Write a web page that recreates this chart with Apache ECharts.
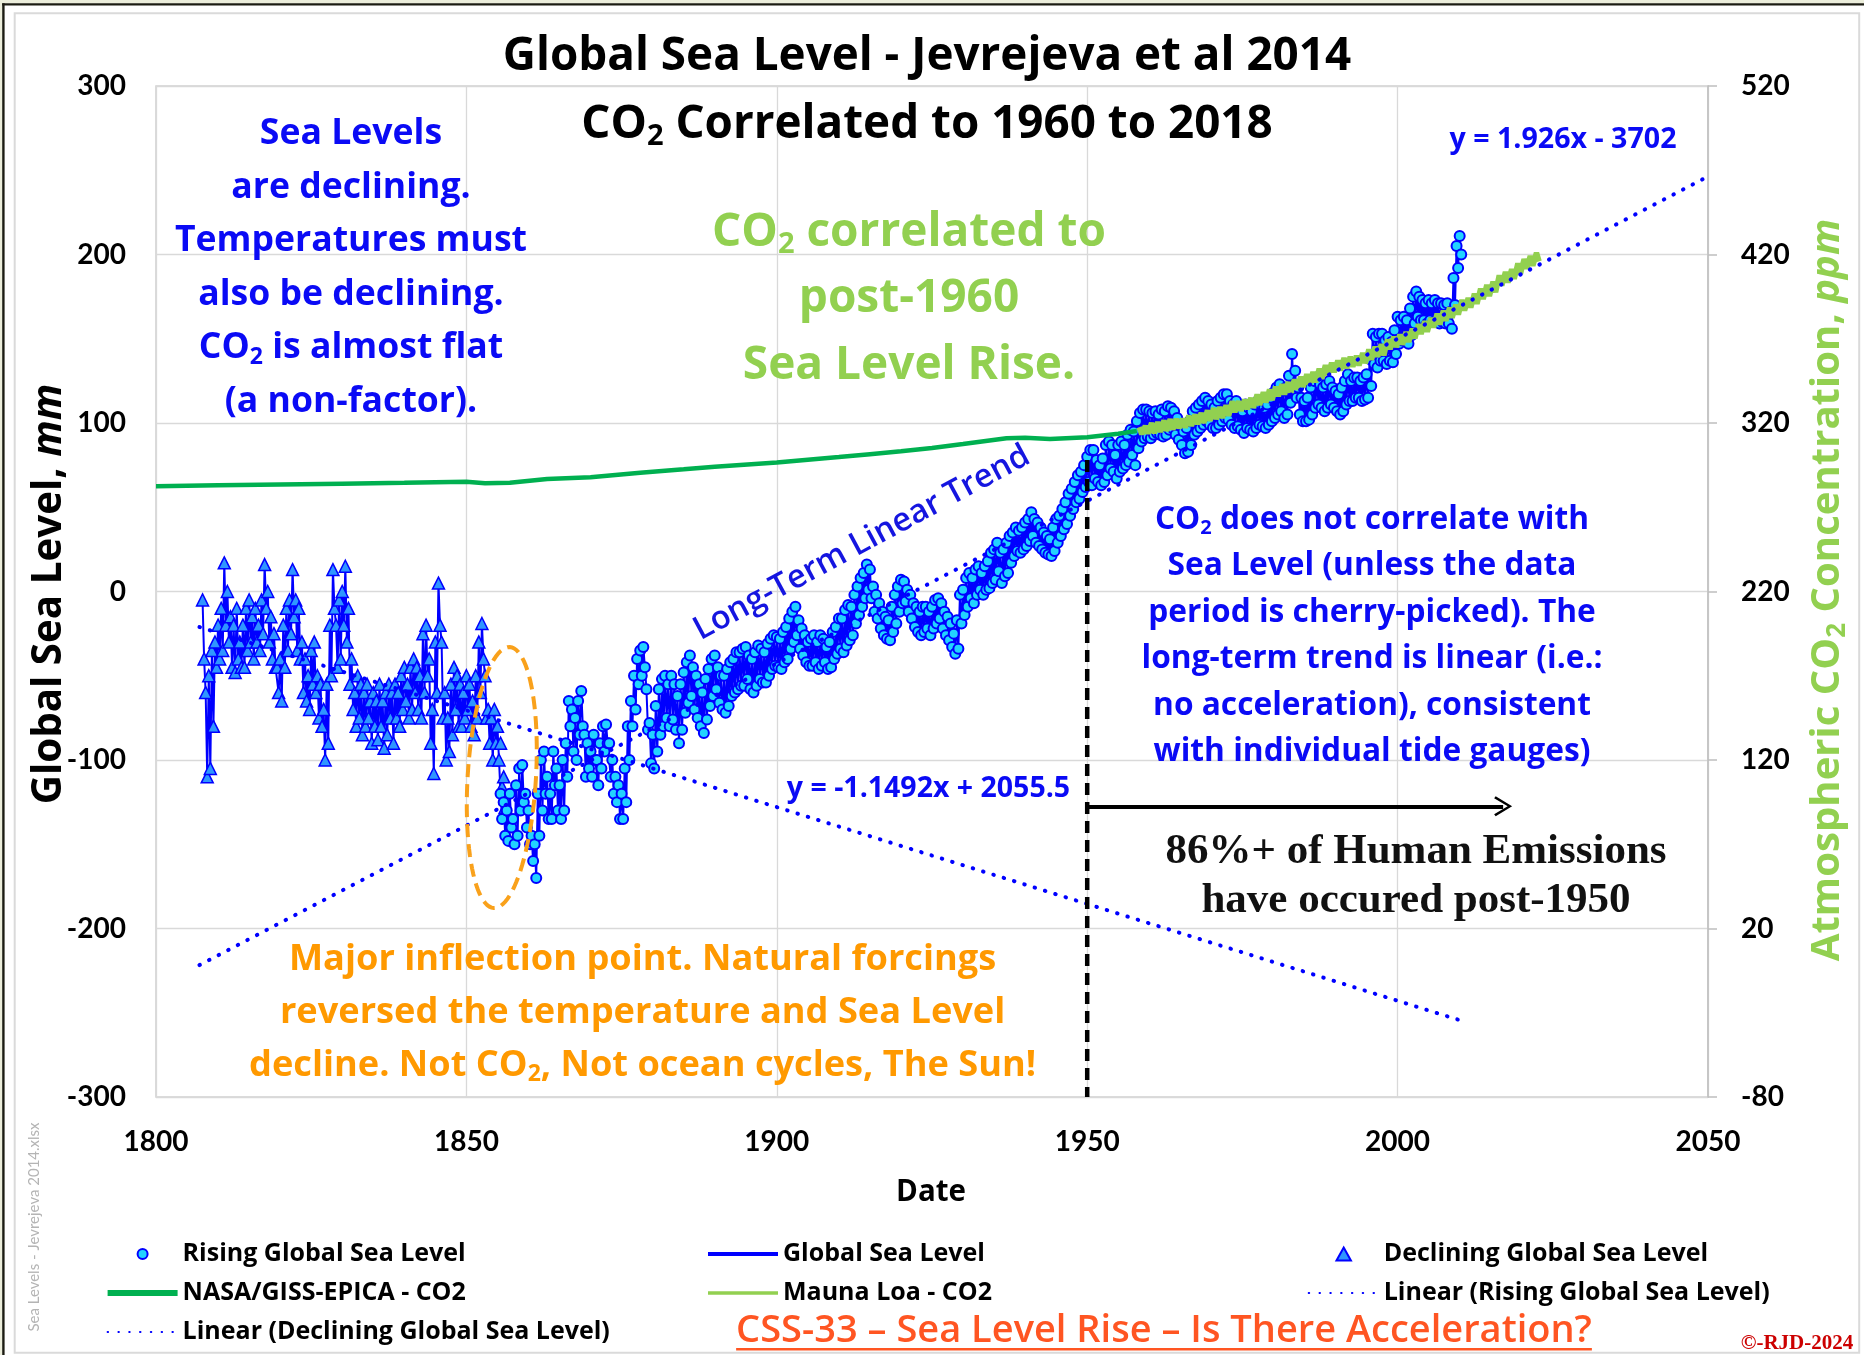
<!DOCTYPE html>
<html>
<head>
<meta charset="utf-8">
<script src="https://cdn.jsdelivr.net/npm/echarts@6.0.0/dist/echarts.min.js"></script>
<style>
  html, body { margin: 0; padding: 0; background: #ffffff; }
  #chart { width: 1864px; height: 1355px; }
</style>
</head>
<body>
<div id="chart"></div>
<script>
// ---------- axes ----------
const yearAxis = { min: 1800, max: 2050, step: 50 };
const seaAxis = { min: -300, max: 300, step: 100 };
const co2Axis = { min: -80, max: 520, step: 100 };

// ---------- Jevrejeva et al. 2014 global sea level (mm) ----------
// rows: [year, high, low] for each half year
const decliningRows = [
  [1807.5,-5,-40],[1808,-60,-110],[1808.5,-50,-105],[1809,-35,-80],[1809.5,-30,-45],[1810,-20,-40],
  [1810.5,-10,-35],[1811,17,-20],[1811.5,0,-30],[1812,-15,-45],[1812.5,-20,-48],[1813,-10,-40],
  [1813.5,-30,-45],[1814,-20,-45],[1814.5,-10,-35],[1815,-5,-30],[1815.5,-15,-40],[1816,-10,-30],
  [1816.5,-20,-35],[1817,-5,-25],[1817.5,16,-10],[1818,0,-30],[1818.5,-15,-40],[1819,-25,-45],
  [1819.5,-45,-60],[1820,-40,-65],[1820.5,-20,-45],[1821,-10,-35],[1821.5,-5,-25],[1822,13,-15],
  [1822.5,-5,-35],[1823,-10,-40],[1823.5,-30,-60],[1824,-40,-65],[1824.5,-50,-70],[1825,-35,-55],
  [1825.5,-30,-60],[1826,-50,-75],[1826.5,-55,-80],[1827,-70,-100],[1827.5,-55,-90],[1828,-20,-50],
  [1828.5,13,-10],[1829,-20,-45],[1829.5,-5,-40],[1830,0,-20],[1830.5,15,-30],[1831,-10,-55],
  [1831.5,-40,-70],[1832,-60,-80],[1832.5,-50,-75],[1833,-55,-85],[1833.5,-60,-80],[1834,-55,-75],
  [1834.5,-65,-90],[1835,-60,-80],[1835.5,-65,-88],[1836,-55,-80],[1836.5,-65,-93],[1837,-60,-85],
  [1837.5,-55,-75],[1838,-60,-90],[1838.5,-55,-75],[1839,-60,-80],[1839.5,-50,-70],[1840,-45,-65],
  [1840.5,-55,-75],[1841,-45,-70],[1841.5,-40,-60],[1842,-45,-70],[1842.5,-50,-75],[1843,-25,-60],
  [1843.5,-20,-50],[1844,-40,-90],[1844.5,-70,-108],[1845,-30,-60],[1845.5,5,-20],[1846,-30,-75],
  [1846.5,-60,-100],[1847,-75,-95],[1847.5,-55,-85],[1848,-45,-70],[1848.5,-50,-80],[1849,-55,-80],
  [1849.5,-60,-75],[1850,-50,-70],[1850.5,-55,-80],[1851,-65,-85],[1851.5,-50,-75],[1852,-30,-60],
  [1852.5,-19,-40],[1853,-50,-75],[1853.5,-70,-90],[1854,-75,-100],[1854.5,-70,-90],[1855,-80,-100],
  [1855.5,-90,-116],[1856,-110,-128]
];
const risingRows = [
  [1855.5,-120,-135],[1856,-125,-145],[1856.5,-130,-148],[1857,-120,-140],[1857.5,-135,-150],[1858,-115,-145],
  [1858.5,-105,-130],[1859,-103,-125],[1859.5,-120,-140],[1860,-130,-150],[1860.5,-145,-160],[1861,-150,-170],
  [1861.5,-120,-145],[1862,-100,-130],[1862.5,-95,-120],[1863,-110,-135],[1863.5,-120,-135],[1864,-95,-115],
  [1864.5,-105,-130],[1865,-115,-135],[1865.5,-100,-130],[1866,-90,-110],[1866.5,-65,-80],[1867,-70,-95],
  [1867.5,-75,-100],[1868,-65,-85],[1868.5,-59,-80],[1869,-85,-110],[1869.5,-90,-105],[1870,-95,-110],
  [1870.5,-85,-100],[1871,-100,-115],[1871.5,-90,-105],[1872,-80,-95],[1872.5,-79,-90],[1873,-90,-110],
  [1873.5,-100,-120],[1874,-110,-125],[1874.5,-115,-135],[1875,-120,-135],[1875.5,-105,-125],[1876,-80,-100],
  [1876.5,-65,-80],[1877,-50,-70],[1877.5,-40,-55],[1878,-35,-50],[1878.5,-33,-45],[1879,-58,-82],
  [1879.5,-78,-102],[1880,-85,-105],[1880.5,-68,-95],[1881,-58,-85],[1881.5,-52,-80],[1882,-50,-75],
  [1882.5,-55,-80],[1883,-50,-76],[1883.5,-55,-82],[1884,-62,-90],[1884.5,-55,-82],[1885,-48,-72],
  [1885.5,-42,-66],[1886,-38,-62],[1886.5,-45,-70],[1887,-50,-75],[1887.5,-55,-80],[1888,-60,-84],
  [1888.5,-52,-76],[1889,-46,-68],[1889.5,-40,-62],[1890,-38,-58],[1890.5,-45,-66],[1891,-50,-70],
  [1891.5,-50,-72],[1892,-46,-68],[1892.5,-42,-62],[1893,-40,-60],[1893.5,-36,-58],[1894,-36,-56],
  [1894.5,-34,-56],[1895,-33,-52],[1895.5,-38,-58],[1896,-40,-60],[1896.5,-36,-56],[1897,-32,-52],
  [1897.5,-34,-54],[1898,-36,-54],[1898.5,-31,-50],[1899,-28,-46],[1899.5,-26,-44],[1900,-27,-45],
  [1900.5,-28,-46],[1901,-24,-42],[1901.5,-21,-40],[1902,-16,-34],[1902.5,-12,-30],[1903,-9,-26],
  [1903.5,-17,-34],[1904,-22,-38],[1904.5,-26,-42],[1905,-30,-44],[1905.5,-28,-44],[1906,-26,-42],
  [1906.5,-30,-46],[1907,-26,-44],[1907.5,-28,-42],[1908,-33,-46],[1908.5,-30,-45],[1909,-24,-40],
  [1909.5,-21,-37],[1910,-16,-34],[1910.5,-16,-36],[1911,-11,-32],[1911.5,-8,-29],[1912,-9,-26],
  [1912.5,-2,-19],[1913,3,-14],[1913.5,8,-9],[1914,11,-4],[1914.5,16,1],[1915,13,-4],
  [1915.5,3,-12],[1916,-2,-16],[1916.5,-7,-22],[1917,-12,-26],[1917.5,-15,-28],[1918,-17,-29],
  [1918.5,-9,-24],[1919,-2,-19],[1919.5,3,-12],[1920,7,-7],[1920.5,6,-6],[1921,1,-12],
  [1921.5,-2,-16],[1922,-7,-21],[1922.5,-9,-24],[1923,-12,-26],[1923.5,-9,-24],[1924,-9,-22],
  [1924.5,-12,-26],[1925,-9,-22],[1925.5,-5,-19],[1926,-4,-16],[1926.5,-7,-22],[1927,-12,-26],
  [1927.5,-15,-29],[1928,-19,-33],[1928.5,-25,-37],[1929,-17,-34],[1929.5,-2,-19],[1930,1,-14],
  [1930.5,8,-9],[1931,11,-4],[1931.5,8,-7],[1932,13,-2],[1932.5,15,1],[1933,11,-2],
  [1933.5,15,1],[1934,18,2],[1934.5,23,5],[1935,25,7],[1935.5,29,12],[1936,23,5],
  [1936.5,25,9],[1937,29,11],[1937.5,33,17],[1938,35,21],[1938.5,38,24],[1939,36,23],
  [1939.5,38,25],[1940,41,27],[1940.5,43,30],[1941,47,33],[1941.5,43,29],[1942,41,27],
  [1942.5,38,25],[1943,35,23],[1943.5,33,22],[1944,31,21],[1944.5,38,24],[1945,43,29],
  [1945.5,45,33],[1946,49,37],[1946.5,53,40],[1947,58,45],[1947.5,61,49],[1948,65,53],
  [1948.5,69,55],[1949,71,59],[1949.5,75,62],[1950,80,65],[1950.5,84,63],[1951,84,67],
  [1951.5,78,65],[1952,75,63],[1952.5,79,65],[1953,87,69],[1953.5,89,73],[1954,87,71],
  [1954.5,81,67],[1955,87,71],[1955.5,89,73],[1956,87,75],[1956.5,93,77],[1957,96,81],
  [1957.5,95,75],[1958,101,85],[1958.5,106,89],[1959,108,91],[1959.5,108,92],[1960,107,91],
  [1960.5,106,93],[1961,107,94],[1961.5,105,93],[1962,108,92],[1962.5,107,93],[1963,110,96],
  [1963.5,109,97],[1964,107,93],[1964.5,103,90],[1965,99,87],[1965.5,95,82],[1966,97,83],
  [1966.5,101,87],[1967,107,93],[1967.5,109,95],[1968,111,97],[1968.5,113,99],[1969,115,101],
  [1969.5,113,99],[1970,111,97],[1970.5,109,97],[1971,113,99],[1971.5,115,101],[1972,117,103],
  [1972.5,117,102],[1973,113,99],[1973.5,111,97],[1974,113,98],[1974.5,109,96],[1975,107,94],
  [1975.5,111,97],[1976,109,96],[1976.5,107,95],[1977,111,97],[1977.5,113,99],[1978,111,98],
  [1978.5,109,97],[1979,111,99],[1979.5,115,101],[1980,118,103],[1980.5,121,105],[1981,123,107],
  [1981.5,119,103],[1982,121,105],[1982.5,128,112],[1983,141,119],[1983.5,131,115],[1984,121,105],
  [1984.5,115,101],[1985,113,101],[1985.5,115,102],[1986,121,105],[1986.5,125,109],[1987,127,111],
  [1987.5,123,109],[1988,121,107],[1988.5,123,109],[1989,125,111],[1989.5,121,109],[1990,119,107],
  [1990.5,117,105],[1991,121,107],[1991.5,125,111],[1992,129,113],[1992.5,125,113],[1993,127,115],
  [1993.5,127,115],[1994,125,113],[1994.5,127,114],[1995,129,115],[1995.5,138,122],[1996,153,135],
  [1996.5,151,133],[1997,153,137],[1997.5,153,137],[1998,149,135],[1998.5,151,137],[1999,148,136],
  [1999.5,155,141],[2000,163,147],[2000.5,161,149],[2001,163,151],[2001.5,161,147],[2002,168,152],
  [2002.5,175,159],[2003,178,163],[2003.5,175,161],[2004,173,161],[2004.5,171,159],[2005,173,161],
  [2005.5,171,160],[2006,173,161],[2006.5,171,159],[2007,171,160],[2007.5,170,159],[2008,171,159],
  [2008.5,166,156],[2009,186,170],[2009.5,205,192],[2010,211,200]
];

// ---------- atmospheric CO2 (ppm) ----------
const gissYears = [1800,1810,1820,1830,1840,1850,1853,1857,1863,1870,1878,1885,1890,1900,1910,1915,1920,1925,1930,1937,1940,1944,1950,1955,1958];
const gissPpm   = [282.4,283.0,283.5,284.0,284.5,285.2,284.3,284.5,286.8,287.8,290.5,292.5,294.0,296.5,299.8,301.5,303.2,305.2,307.5,311.0,311.3,310.5,311.5,313.6,315.3];
// Mauna Loa: [year, spring high, autumn low]
const maunaRows = [
  [1958,317.5,313.3],[1959,318.3,313.7],[1960,320.0,313.9],[1961,320.6,314.7],[1962,321.6,315.3],
  [1963,322.3,316.1],[1964,322.5,316.8],[1965,322.6,317.2],[1966,324.4,318.2],[1967,325.0,319.3],
  [1968,326.0,320.0],[1969,327.5,321.3],[1970,328.9,322.3],[1971,329.5,322.9],[1972,330.6,324.3],
  [1973,332.9,326.5],[1974,333.0,327.2],[1975,333.9,328.2],[1976,334.9,329.0],[1977,336.9,330.7],
  [1978,338.3,332.2],[1979,339.9,333.6],[1980,341.5,335.9],[1981,343.0,336.9],[1982,344.3,338.0],
  [1983,345.9,339.9],[1984,347.5,341.4],[1985,348.9,342.9],[1986,350.3,344.2],[1987,352.2,346.3],
  [1988,354.3,348.4],[1989,355.7,350.1],[1990,357.1,351.2],[1991,358.6,352.4],[1992,359.3,353.4],
  [1993,359.9,354.1],[1994,361.6,355.5],[1995,363.6,357.6],[1996,365.3,359.3],[1997,366.8,360.2],
  [1998,369.5,363.8],[1999,371.2,365.0],[2000,372.5,366.5],[2001,374.0,368.1],[2002,375.9,370.2],
  [2003,378.6,372.8],[2004,380.4,374.1],[2005,382.3,376.7],[2006,384.9,378.4],[2007,386.6,380.7],
  [2008,388.5,382.4],[2009,390.2,384.3],[2010,393.0,386.8],[2011,394.2,388.5],[2012,396.8,390.7],
  [2013,399.8,393.5],[2014,401.9,395.3],[2015,403.9,397.6],[2016,407.6,401.5],[2017,409.7,403.4],
  [2018,411.3,405.6],[2019,414.7,408.5],[2020,417.3,411.5],[2021,419.1,413.3],[2022,421.0,415.9]
];

// ---------- least-squares fits printed on the chart ----------
const risingFit    = { slope: 1.926,   intercept: -3702,  from: 1807, to: 2050 };
const decliningFit = { slope: -1.1492, intercept: 2055.5, from: 1807, to: 2011 };

// ---------- annotation anchors (data units) ----------
const post1950 = { year: 1950, top: 78, arrowLevel: -127.5, arrowEnd: 2017 };
const inflection = { year: 1855.7, level: -110.4, halfYears: 5.5, halfMm: 77.6, tiltDeg: 3.5 };

// ---------- series assembly ----------
function expand(rows, hiOff, loOff) {
  const out = [];
  rows.forEach(r => { out.push([r[0] + hiOff, r[1]]); out.push([r[0] + loOff, r[2]]); });
  return out;
}
const declPts = expand(decliningRows, 0, 0.25);
const risePts = expand(risingRows, 0, 0.25);
const seaLine = declPts.filter(p => p[0] < risingRows[0][0]).concat(risePts);
const gissPts = gissYears.map((y, i) => [y, gissPpm[i]]);
const maunaPts = expand(maunaRows, 0.37, 0.79);
const fitLine = f => [[f.from, f.slope * f.from + f.intercept], [f.to, f.slope * f.to + f.intercept]];

// ---------- text helpers ----------
const SANS = '"Open Sans", Lato, sans-serif';
const TICK = 'Lato, "Open Sans", sans-serif';
const SERIF = '"Liberation Serif", "Times New Roman", serif';
const BLUE = '#0a0af5';
const ORANGE = '#ff9900';
const LIME = '#92d050';

function textBlock(o) {
  const base = {
    fontSize: o.size, fontWeight: o.weight || 'bold', fontFamily: o.family || SANS,
    fontStyle: 'normal', fill: o.color
  };
  const d = Math.round(o.size * 0.26);
  const lh = o.lh || Math.round(o.size * 1.3);
  return {
    type: 'text', x: o.x, y: o.y, rotation: o.rot || 0, z: 100, silent: true,
    style: Object.assign({}, base, {
      text: o.lines.join('\n'), lineHeight: lh,
      align: o.align || 'center', verticalAlign: 'middle',
      rich: {
        s: Object.assign({}, base, { fontSize: Math.round(o.size * 0.64), padding: [2 * d, 0, 0, 0] }),
        i: Object.assign({}, base, { fontStyle: 'italic' })
      }
    })
  };
}

const footerText = 'CSS-33 \u2013 Sea Level Rise \u2013 Is There Acceleration?';
const footerFont = { size: 38, weight: 600, x: 1164, y: 1331 };
function measure(text, font) {
  const c = document.createElement('canvas').getContext('2d');
  c.font = font;
  return c.measureText(text).width;
}
const footerW = measure(footerText, `${footerFont.weight} ${footerFont.size}px ${SANS}`);

const chart = echarts.init(document.getElementById('chart'), null, { renderer: 'canvas' });

const axisLabelStyle = { fontSize: 28, fontWeight: 'bold', fontFamily: TICK, color: '#000' };
const gridLine = { lineStyle: { color: '#d9d9d9', width: 1.3 } };
const legendText = { fontSize: 25, fontWeight: 'bold', fontFamily: SANS, color: '#000', lineHeight: 30 };
const noSymbol = { opacity: 0 };

const option = {
  animation: false,
  backgroundColor: '#ffffff',
  grid: { left: 156, right: 156, top: 86, bottom: 258, show: true, borderColor: '#d0d0d0', borderWidth: 1.5,
          containLabel: false, outerBoundsMode: 'none' },
  xAxis: {
    type: 'value', min: yearAxis.min, max: yearAxis.max, interval: yearAxis.step,
    axisLine: { show: false }, axisTick: { show: false }, splitLine: gridLine,
    axisLabel: Object.assign({ margin: 31, showMinLabel: true, showMaxLabel: true, formatter: v => String(v) }, axisLabelStyle)
  },
  yAxis: [
    {
      type: 'value', min: seaAxis.min, max: seaAxis.max, interval: seaAxis.step,
      axisLine: { show: false }, axisTick: { show: false }, splitLine: gridLine,
      axisLabel: Object.assign({ margin: 30, showMinLabel: true, showMaxLabel: true, formatter: v => String(v) }, axisLabelStyle)
    },
    {
      type: 'value', position: 'right', min: co2Axis.min, max: co2Axis.max, interval: co2Axis.step,
      axisLine: { show: true, lineStyle: { color: '#bfbfbf', width: 1.5 } },
      axisTick: { show: true, length: 9, lineStyle: { color: '#bfbfbf', width: 1.5 } },
      splitLine: { show: false },
      axisLabel: Object.assign({ margin: 33, showMinLabel: true, showMaxLabel: true, formatter: v => String(v) }, axisLabelStyle)
    }
  ],
  legend: [
    {
      left: 104.6, top: 1239, orient: 'vertical', padding: 0, itemWidth: 70, itemHeight: 10, itemGap: 9,
      selectedMode: false, textStyle: legendText,
      data: [
        { name: 'Rising Global Sea Level' },
        { name: 'NASA/GISS-EPICA - CO2', itemStyle: noSymbol, lineStyle: { width: 6 } },
        { name: 'Linear (Declining Global Sea Level)', itemStyle: noSymbol }
      ]
    },
    {
      left: 706, top: 1239, orient: 'vertical', padding: 0, itemWidth: 70, itemHeight: 10, itemGap: 9,
      selectedMode: false, textStyle: legendText,
      data: [
        { name: 'Global Sea Level', itemStyle: noSymbol, lineStyle: { width: 4 } },
        { name: 'Mauna Loa - CO2', itemStyle: noSymbol, lineStyle: { width: 3.5 } }
      ]
    },
    {
      left: 1307.7, top: 1239, orient: 'vertical', padding: 0, itemWidth: 70, itemHeight: 13, itemGap: 9,
      selectedMode: false, textStyle: legendText,
      data: [
        { name: 'Declining Global Sea Level', icon: 'path://M5,0 L10,9 L0,9 Z' },
        { name: 'Linear (Rising Global Sea Level)', itemStyle: noSymbol }
      ]
    }
  ],
  series: [
    {
      name: 'Global Sea Level', type: 'line', data: seaLine, symbol: 'none', z: 2, silent: true,
      lineStyle: { color: '#0000ff', width: 2 }, itemStyle: { color: '#0000ff' }
    },
    {
      name: 'Declining Global Sea Level', type: 'scatter', data: declPts, symbol: 'triangle', symbolSize: 12,
      z: 3, silent: true,
      itemStyle: { color: '#2f96ff', borderColor: '#0000ff', borderWidth: 1.5, opacity: 1 }
    },
    {
      name: 'Rising Global Sea Level', type: 'scatter', data: risePts, symbol: 'circle', symbolSize: 10,
      z: 3, silent: true,
      itemStyle: { color: '#22d3ff', borderColor: '#0000ff', borderWidth: 2, opacity: 1 }
    },
    {
      name: 'NASA/GISS-EPICA - CO2', type: 'line', yAxisIndex: 1, data: gissPts, symbol: 'none', z: 4, silent: true,
      lineStyle: { color: '#00b050', width: 4.5 }, itemStyle: { color: '#00b050' }
    },
    {
      name: 'Mauna Loa - CO2', type: 'line', yAxisIndex: 1, data: maunaPts, symbol: 'none', z: 4, silent: true,
      lineStyle: { color: LIME, width: 5.5 }, itemStyle: { color: LIME }
    },
    {
      name: 'Linear (Rising Global Sea Level)', type: 'line', data: fitLine(risingFit), symbol: 'none', z: 5, silent: true,
      lineStyle: { color: '#0000ff', width: 4, type: [0.5, 10.3], cap: 'round' }, itemStyle: { color: '#0000ff' }
    },
    {
      name: 'Linear (Declining Global Sea Level)', type: 'line', data: fitLine(decliningFit), symbol: 'none', z: 5, silent: true,
      lineStyle: { color: '#0000ff', width: 4, type: [0.5, 10.3], cap: 'round' }, itemStyle: { color: '#0000ff' }
    },
    {
      name: 'post-1950', type: 'line', symbol: 'none', z: 6, silent: true,
      data: [[post1950.year, post1950.top], [post1950.year, seaAxis.min]],
      lineStyle: { color: '#000000', width: 4.5, type: [12, 7] },
      markLine: {
        silent: true, animation: false,
        symbol: ['none', 'path://M0,0 L12,17 L9.6,18.6 L0,4.6 L-9.6,18.6 L-12,17 Z'],
        symbolSize: [20, 18],
        label: { show: false },
        lineStyle: { color: '#000000', width: 4, type: 'solid' },
        data: [[{ coord: [post1950.year, post1950.arrowLevel] }, { coord: [post1950.arrowEnd, post1950.arrowLevel] }]]
      }
    },
    {
      type: 'custom', z: 7, silent: true,
      data: [[inflection.year, inflection.level, inflection.halfYears, inflection.halfMm, inflection.tiltDeg]],
      renderItem: (params, api) => {
        const c = api.coord([api.value(0), api.value(1)]);
        const e = api.coord([api.value(0) + api.value(2), api.value(1) + api.value(3)]);
        const rx = e[0] - c[0], ry = c[1] - e[1];
        const a = api.value(4) * Math.PI / 180;
        const pts = [];
        for (let k = 0; k <= 96; k++) {
          const t = k / 96 * Math.PI * 2;
          const u = rx * Math.cos(t), v = ry * Math.sin(t);
          pts.push([c[0] + u * Math.cos(a) - v * Math.sin(a), c[1] + u * Math.sin(a) + v * Math.cos(a)]);
        }
        return {
          type: 'polyline', shape: { points: pts },
          style: { stroke: '#f9a11b', lineWidth: 4, lineDash: [13, 7], fill: null }
        };
      }
    }
  ],
  graphic: [
    // page frame
    { type: 'rect', z: -10, silent: true, shape: { x: 0, y: 0, width: 1864, height: 3.3 }, style: { fill: '#eceedb' } },
    { type: 'rect', z: -10, silent: true, shape: { x: 0, y: 0, width: 2.2, height: 1355 }, style: { fill: '#eceedb' } },
    { type: 'rect', z: -9, silent: true, shape: { x: 2.2, y: 3.3, width: 1864, height: 2.2 }, style: { fill: '#1c1c12' } },
    { type: 'rect', z: -9, silent: true, shape: { x: 2.2, y: 3.3, width: 2.4, height: 1355 }, style: { fill: '#1c1c12' } },
    { type: 'rect', z: -8, silent: true, shape: { x: 14.7, y: 13.3, width: 1844.5, height: 1339.5 },
      style: { fill: null, stroke: '#dadada', lineWidth: 2 } },

    // title
    textBlock({ x: 927, y: 57, size: 45.8, color: '#000', lines: ['Global Sea Level - Jevrejeva et al 2014'] }),
    textBlock({ x: 927, y: 125, size: 45.8, color: '#000', lines: ['CO{s|2} Correlated to 1960 to 2018'] }),

    // annotations
    textBlock({ x: 351, y: 134 + 2.5 * 53.5, size: 35.6, lh: 53.5, color: BLUE, lines: [
      'Sea Levels', 'are declining.', 'Temperatures must', 'also be declining.',
      'CO{s|2} is almost flat', '(a non-factor).'] }),
    textBlock({ x: 909, y: 299, size: 46, lh: 66.6, color: LIME, lines: [
      'CO{s|2} correlated to', 'post-1960', 'Sea Level Rise.'] }),
    textBlock({ x: 1563, y: 140, size: 28.6, color: BLUE, lines: ['y = 1.926x - 3702'] }),
    textBlock({ x: 928.5, y: 789, size: 28.5, color: BLUE, lines: ['y = -1.1492x + 2055.5'] }),
    textBlock({ x: 862, y: 543, size: 32.5, weight: 600, color: '#1515e0', rot: 28.3 * Math.PI / 180,
      lines: ['Long-Term Linear Trend'] }),
    textBlock({ x: 1372, y: 520 + 2.5 * 46.4, size: 31.7, lh: 46.4, color: BLUE, lines: [
      'CO{s|2} does not correlate with', 'Sea Level (unless the data', 'period is cherry-picked). The',
      'long-term trend is linear (i.e.:', 'no acceleration), consistent', 'with individual tide gauges)'] }),
    textBlock({ x: 1416, y: 876, size: 43, lh: 49, family: SERIF, color: '#111', lines: [
      '86%+ of Human Emissions', 'have occured post-1950'] }),
    textBlock({ x: 642.6, y: 1012.5, size: 36.2, lh: 53, color: ORANGE, lines: [
      'Major inflection point. Natural forcings', 'reversed the temperature and Sea Level',
      'decline. Not CO{s|2}, Not ocean cycles, The Sun!'] }),

    // axis titles
    textBlock({ x: 50, y: 594, size: 40.3, color: '#000', rot: Math.PI / 2, lines: ['Global Sea Level, {i|mm}'] }),
    textBlock({ x: 1828, y: 590, size: 40.1, color: LIME, rot: Math.PI / 2,
      lines: ['Atmospheric CO{s|2} Concentration, {i|ppm}'] }),
    textBlock({ x: 931, y: 1193, size: 29.5, color: '#000', lines: ['Date'] }),

    // footer
    textBlock({ x: footerFont.x, y: footerFont.y, size: footerFont.size, weight: footerFont.weight, color: '#ff5522', lines: [footerText] }),
    { type: 'rect', z: 100, silent: true,
      shape: { x: footerFont.x - footerW / 2, y: 1348, width: footerW, height: 2.5 }, style: { fill: '#ff5522' } },
    textBlock({ x: 1797, y: 1344, size: 21, family: SERIF, color: '#cc0000', lines: ['\u00a9-RJD-2024'] }),
    textBlock({ x: 34, y: 1227, size: 15, weight: 'normal', family: TICK, color: '#b4b4b4', rot: Math.PI / 2,
      lines: ['Sea Levels - Jevrejeva 2014.xlsx'] })
  ]
};

chart.setOption(option);
</script>
</body>
</html>
